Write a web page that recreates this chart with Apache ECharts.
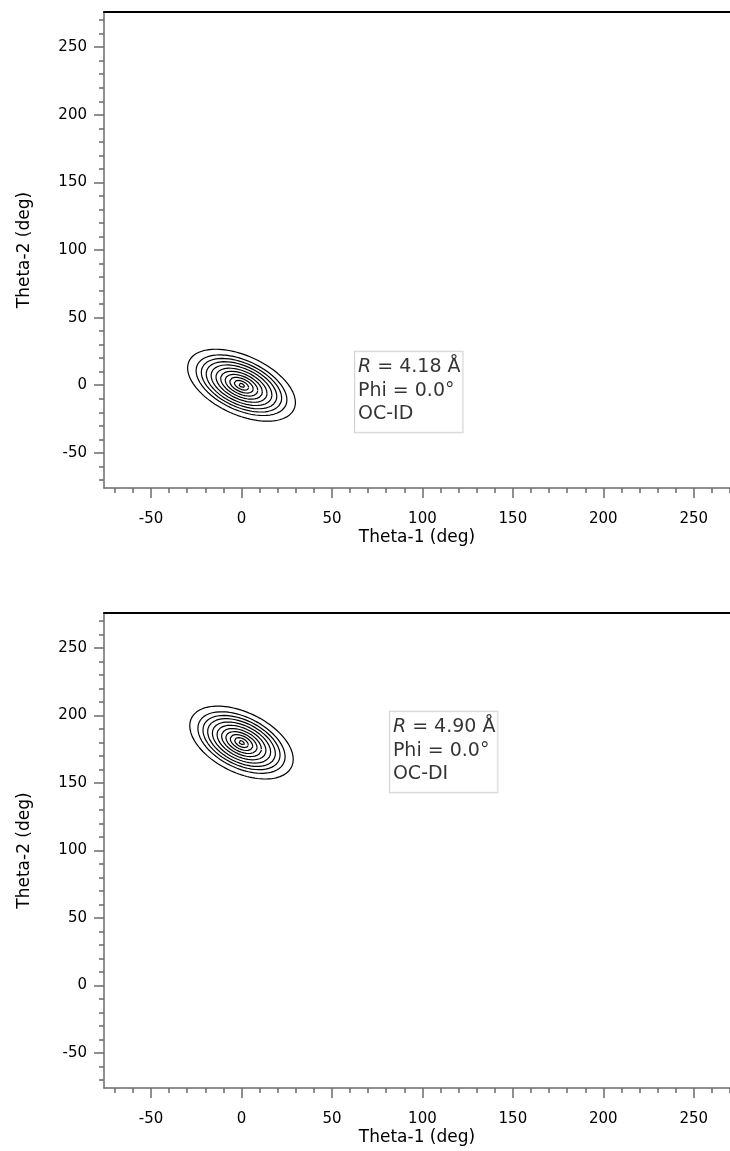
<!DOCTYPE html>
<html><head><meta charset="utf-8">
<script src="https://cdn.jsdelivr.net/npm/echarts@6/dist/echarts.min.js"></script>
<style>html,body{margin:0;padding:0;background:#fff}#c{width:730px;height:1151px}</style>
</head><body><div id="c"></div>
<script>
// ---- data ----
const xMajorTicks = [-50, 0, 50, 100, 150, 200, 250];
const yMajorTicks = [-50, 0, 50, 100, 150, 200, 250];
const xMinorTicks = [-70,-60,-50,-40,-30,-20,-10,0,10,20,30,40,50,60,70,80,90,100,110,120,130,140,150,160,170,180,190,200,210,220,230,240,250,260,270];
const yMinorTicks = [-70,-60,-50,-40,-30,-20,-10,0,10,20,30,40,50,60,70,80,90,100,110,120,130,140,150,160,170,180,190,200,210,220,230,240,250,260,270];
const xRange = [-76, 270];
const yRange = [-76, 276];
const xName = 'Theta-1 (deg)';
const yName = 'Theta-2 (deg)';

// contour levels (outer -> inner): half extents in theta-1 and theta-2, tilt correlation
const topCenter = [0, 0];
const topTilt = -0.48;
const topHalfX = [29.8, 25.1, 22.2, 19.5, 16.8, 14.1, 11.5, 9.0, 6.5, 4.0, 1.7];
const topHalfY = [26.6, 22.4, 19.8, 17.4, 15.0, 12.6, 10.3, 8.0, 5.8, 3.6, 1.5];

const botCenter = [0, 180];
const botTilt = -0.46;
const botHalfX = [28.6, 24.1, 21.3, 18.7, 16.1, 13.5, 11.0, 8.6, 6.2, 3.8, 1.6];
const botHalfY = [27.0, 22.8, 20.1, 17.7, 15.2, 12.8, 10.4, 8.1, 5.9, 3.7, 1.5];

const topNote = { anchor: [63, 24.4], r: '4.18 Å', phi: 'Phi = 0.0°', name: 'OC-ID' };
const botNote = { anchor: [82.3, 202.5], r: '4.90 Å', phi: 'Phi = 0.0°', name: 'OC-DI' };

// ---- build ----
function ellipse(c, hx, hy, rho) {
  const pts = [];
  const s = Math.sqrt(1 - rho * rho);
  const n = 120;
  for (let i = 0; i <= n; i++) {
    const t = 2 * Math.PI * i / n;
    pts.push([c[0] + hx * Math.cos(t), c[1] + hy * (rho * Math.cos(t) + s * Math.sin(t))]);
  }
  return pts;
}
const AX = '#6b6b6b';
const tickFont = { fontSize: 15, color: '#000', fontFamily: 'DejaVu Sans' };
const nameFont = { fontSize: 17, color: '#000', fontFamily: 'DejaVu Sans' };
function xAxes(g) {
  return [
    { gridIndex: g, type: 'value', min: xRange[0], max: xRange[1], position: 'bottom',
      axisLine: { show: true, onZero: false, lineStyle: { color: AX, width: 1.5 } },
      axisTick: { show: true, customValues: xMajorTicks, length: 10, lineStyle: { color: AX, width: 1.5 } },
      axisLabel: Object.assign({ customValues: xMajorTicks, margin: 24 }, tickFont),
      splitLine: { show: false },
      name: xName, nameLocation: 'middle', nameGap: 41, nameTextStyle: nameFont },
    { gridIndex: g, type: 'value', min: xRange[0], max: xRange[1], position: 'bottom',
      axisLine: { show: false, onZero: false },
      axisTick: { show: true, customValues: xMinorTicks, length: 5, lineStyle: { color: AX, width: 1.5 } },
      axisLabel: { show: false }, splitLine: { show: false } },
    { gridIndex: g, type: 'value', min: xRange[0], max: xRange[1], position: 'top',
      axisLine: { show: true, onZero: false, lineStyle: { color: '#000', width: 2 } },
      axisTick: { show: false }, axisLabel: { show: false }, splitLine: { show: false } }
  ];
}
function yAxes(g) {
  return [
    { gridIndex: g, type: 'value', min: yRange[0], max: yRange[1], position: 'left',
      axisLine: { show: true, onZero: false, lineStyle: { color: AX, width: 1.5 } },
      axisTick: { show: true, customValues: yMajorTicks, length: 10, lineStyle: { color: AX, width: 1.5 } },
      axisLabel: Object.assign({ customValues: yMajorTicks, margin: 17 }, tickFont),
      splitLine: { show: false },
      name: yName, nameLocation: 'middle', nameGap: 71, nameTextStyle: nameFont },
    { gridIndex: g, type: 'value', min: yRange[0], max: yRange[1], position: 'left',
      axisLine: { show: false, onZero: false },
      axisTick: { show: true, customValues: yMinorTicks, length: 5, lineStyle: { color: AX, width: 1.5 } },
      axisLabel: { show: false }, splitLine: { show: false } }
  ];
}
function contourSeries(c, hxs, hys, rho, xi, yi) {
  return hxs.map((hx, k) => ({
    type: 'line', xAxisIndex: xi, yAxisIndex: yi, data: ellipse(c, hx, hys[k], rho),
    showSymbol: false, silent: true, animation: false,
    lineStyle: { color: '#000', width: 1.2 }
  }));
}
function noteSeries(note, xi, yi) {
  return {
    type: 'scatter', xAxisIndex: xi, yAxisIndex: yi, data: [note.anchor], symbolSize: 1,
    itemStyle: { color: 'rgba(0,0,0,0)' }, silent: true, animation: false, z: 10,
    labelLayout: { hideOverlap: false },
    label: {
      show: true, position: [0, 0], align: 'left', verticalAlign: 'top',
      formatter: '{i|R} = ' + note.r + '\n' + note.phi + '\n' + note.name,
      fontSize: 19, lineHeight: 23.5, fontFamily: 'DejaVu Sans', color: '#000',
      borderColor: '#c8c8c8', borderWidth: 1, padding: [4, 2, 6, 3], backgroundColor: '#fff',
      rich: { i: { fontStyle: 'italic', fontSize: 19, lineHeight: 23.5, fontFamily: 'DejaVu Sans', color: '#000' } }
    }
  };
}
const chart = echarts.init(document.getElementById('c'), null, { renderer: 'canvas' });
chart.setOption({
  animation: false,
  backgroundColor: '#fff',
  grid: [
    { left: 104, top: 12, right: 0, height: 476 },
    { left: 104, top: 613, right: 0, height: 475 }
  ],
  xAxis: xAxes(0).concat(xAxes(1)),
  yAxis: yAxes(0).concat(yAxes(1)),
  series: [].concat(
    contourSeries(topCenter, topHalfX, topHalfY, topTilt, 0, 0),
    [noteSeries(topNote, 0, 0)],
    contourSeries(botCenter, botHalfX, botHalfY, botTilt, 3, 2),
    [noteSeries(botNote, 3, 2)]
  )
});
</script></body></html>
